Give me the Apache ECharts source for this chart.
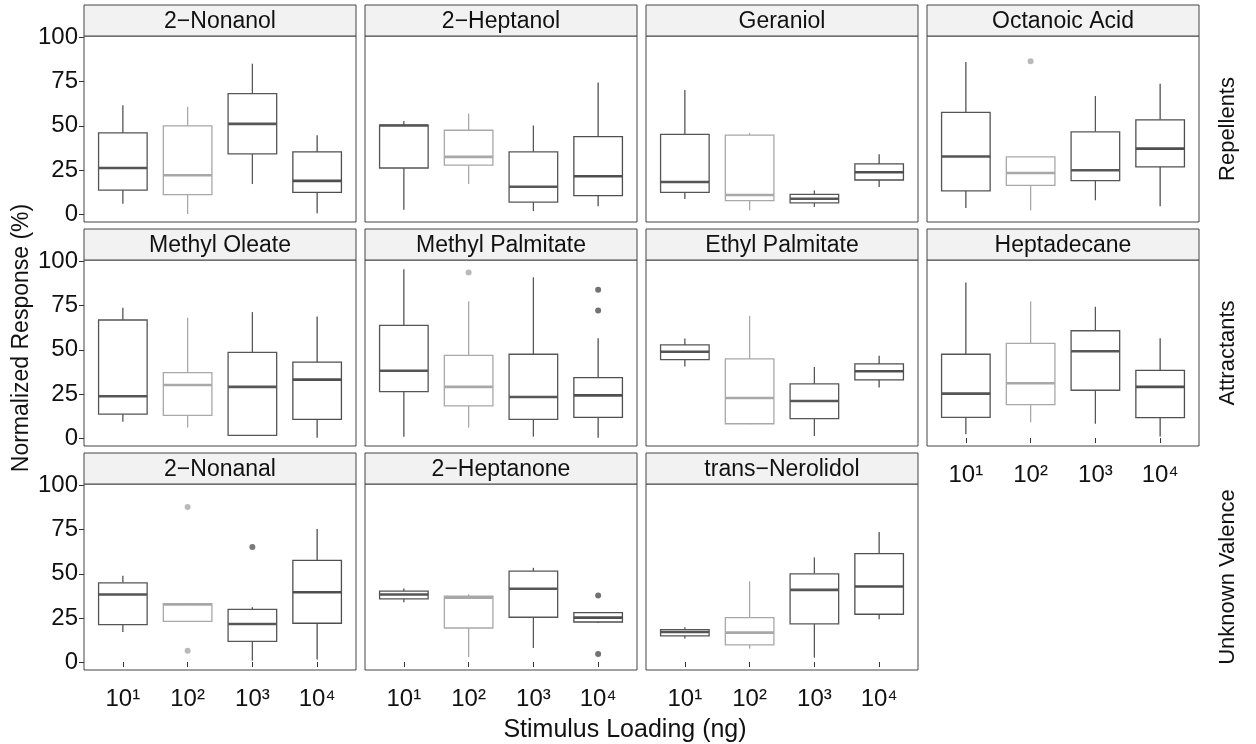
<!DOCTYPE html>
<html>
<head>
<meta charset="utf-8">
<script src="https://cdn.jsdelivr.net/npm/echarts@6/dist/echarts.min.js"></script>
<style>
  html, body { margin: 0; padding: 0; background: #fff; }
  #main { width: 1256px; height: 744px; }
</style>
</head>
<body>
<div id="main"></div>
<script>
// stimulus loadings (x categories) and y ticks
var categories = ['10¹', '10²', '10³', '10⁴'];
var yTicks = [0, 25, 50, 75, 100];
var groupNames = ['Repellents', 'Attractants', 'Unknown Valence'];

// each box: [min, Q1, median, Q3, max] for 10^1 .. 10^4
var nonanolBoxes      = [[5.9, 13.6, 26.1, 46.0, 61.7], [0.0, 11.0, 22.0, 50.0, 60.8], [17.0, 34.1, 51.1, 68.2, 85.2], [0.4, 12.3, 18.8, 35.2, 44.7]];
var heptanolBoxes     = [[2.5, 26.1, 50.2, 50.4, 52.7], [17.0, 27.7, 32.4, 47.5, 57.0], [1.7, 6.8, 15.5, 35.2, 50.2], [4.4, 10.4, 21.4, 43.9, 74.6]];
var geraniolBoxes     = [[8.5, 12.3, 18.2, 45.1, 70.3], [2.1, 7.6, 10.8, 44.7, 46.0], [4.0, 6.3, 8.7, 11.2, 13.4], [15.3, 19.3, 23.7, 28.4, 33.9]];
var octanoicBoxes     = [[3.4, 13.1, 32.6, 57.6, 86.2], [2.1, 16.3, 23.3, 32.4, 32.6], [7.8, 18.9, 24.8, 46.6, 66.9], [4.4, 26.7, 37.1, 53.4, 73.9]];
var methOleateBoxes   = [[9.3, 13.6, 23.7, 66.9, 73.9], [5.9, 12.9, 30.1, 37.1, 68.2], [1.5, 1.5, 29.0, 48.5, 71.4], [0.2, 10.6, 33.1, 43.0, 68.9]];
var methPalmBoxes     = [[0.8, 26.3, 38.1, 63.8, 95.6], [5.9, 18.2, 29.0, 46.8, 77.5], [0.8, 10.6, 23.3, 47.5, 91.1], [0.2, 11.7, 24.2, 34.3, 56.6]];
var ethPalmBoxes      = [[40.5, 44.5, 48.9, 52.8, 56.4], [7.8, 8.1, 22.7, 44.9, 69.3], [1.1, 11.0, 21.0, 30.7, 40.3], [28.6, 33.0, 37.9, 42.0, 46.6]];
var heptadecaneBoxes  = [[2.1, 11.7, 25.2, 47.5, 88.1], [8.9, 18.9, 31.1, 53.6, 77.5], [8.1, 27.1, 49.2, 60.8, 74.4], [0.9, 11.6, 29.0, 38.3, 56.6]];
var nonanalBoxes      = [[17.0, 21.2, 38.3, 44.9, 48.9], [22.7, 23.1, 32.6, 33.1, 33.5], [0.8, 11.7, 21.6, 29.9, 31.1], [1.5, 22.0, 39.6, 57.6, 75.4]];
var heptanoneBoxes    = [[33.9, 35.8, 38.3, 40.2, 41.7], [2.8, 19.3, 36.4, 37.3, 38.4], [8.0, 25.4, 41.5, 51.5, 53.4], [22.3, 22.7, 25.2, 28.0, 28.0]];
var nerolidolBoxes    = [[13.3, 14.8, 17.0, 18.4, 19.7], [7.6, 9.7, 16.7, 25.2, 45.8], [2.5, 21.6, 40.9, 50.0, 59.3], [24.2, 27.1, 42.8, 61.4, 73.7]];

// outliers: [category position (1-4), value]
var octanoicOutliers  = [[2, 86.6]];
var methPalmOutliers  = [[2, 93.8], [4, 84.1], [4, 72.3]];
var nonanalOutliers   = [[2, 87.9], [2, 6.4], [3, 65.2]];
var heptanoneOutliers = [[4, 37.7], [4, 4.5]];

var panels = [
    {name: '2−Nonanol', boxes: nonanolBoxes, outliers: []},
    {name: '2−Heptanol', boxes: heptanolBoxes, outliers: []},
    {name: 'Geraniol', boxes: geraniolBoxes, outliers: []},
    {name: 'Octanoic Acid', boxes: octanoicBoxes, outliers: octanoicOutliers},
    {name: 'Methyl Oleate', boxes: methOleateBoxes, outliers: []},
    {name: 'Methyl Palmitate', boxes: methPalmBoxes, outliers: methPalmOutliers},
    {name: 'Ethyl Palmitate', boxes: ethPalmBoxes, outliers: []},
    {name: 'Heptadecane', boxes: heptadecaneBoxes, outliers: []},
    {name: '2−Nonanal', boxes: nonanalBoxes, outliers: nonanalOutliers},
    {name: '2−Heptanone', boxes: heptanoneBoxes, outliers: heptanoneOutliers},
    {name: 'trans−Nerolidol', boxes: nerolidolBoxes, outliers: []}
];

var boxColors = ['#555555', '#a8a8a8', '#575757', '#4f4f4f'];
var FONT = '"Liberation Sans", Arial, Helvetica, sans-serif';
var TXT = '#111';
var colLeft = [84, 365, 646, 927];
var rowTop = [36, 260, 484];
var panelW = 272, panelH = 186, stripH = 31;

function renderBox(params, api) {
    var x = api.value(0);
    var lo = api.coord([x, api.value(1)]);
    var q1 = api.coord([x, api.value(2)]);
    var med = api.coord([x, api.value(3)]);
    var q3 = api.coord([x, api.value(4)]);
    var hi = api.coord([x, api.value(5)]);
    var half = api.size([0.75, 0])[0] / 2;
    var col = boxColors[x - 1];
    return {
        type: 'group',
        children: [
            {type: 'line', shape: {x1: lo[0], y1: lo[1], x2: q1[0], y2: q1[1]}, style: {stroke: col, lineWidth: 1.3}},
            {type: 'line', shape: {x1: q3[0], y1: q3[1], x2: hi[0], y2: hi[1]}, style: {stroke: col, lineWidth: 1.3}},
            {type: 'rect', shape: {x: q3[0] - half, y: q3[1], width: half * 2, height: q1[1] - q3[1]},
                style: {fill: '#fff', stroke: col, lineWidth: 1.3}},
            {type: 'line', shape: {x1: med[0] - half, y1: med[1], x2: med[0] + half, y2: med[1]},
                style: {stroke: col, lineWidth: 2.6}}
        ]
    };
}

var grids = [], xAxes = [], yAxes = [], series = [], graphics = [];

panels.forEach(function (p, i) {
    var r = Math.floor(i / 4), c = i % 4;
    var bottom = (r === 2) || (r === 1 && c === 3);
    grids.push({
        left: colLeft[c], top: rowTop[r], width: panelW, height: panelH,
        show: true, borderColor: '#444', borderWidth: 1, backgroundColor: '#fff'
    });
    xAxes.push({
        type: 'value', gridIndex: i, min: 0.4, max: 4.6,
        axisLine: {show: false},
        splitLine: {show: false},
        axisTick: {show: bottom, customValues: [1, 2, 3, 4], length: 5, lineStyle: {color: '#333'}},
        axisLabel: {
            show: bottom, customValues: [1, 2, 3, 4], margin: 17,
            fontFamily: FONT, fontSize: 24, color: TXT,
            formatter: function (v) { return categories[Math.round(v) - 1]; }
        }
    });
    yAxes.push({
        type: 'value', gridIndex: i, min: -4.5, max: 100.9,
        axisLine: {show: false},
        splitLine: {show: false},
        axisTick: {show: c === 0, customValues: yTicks, length: 5, lineStyle: {color: '#333'}},
        axisLabel: {
            show: c === 0, customValues: yTicks, margin: 6,
            fontFamily: FONT, fontSize: 24, color: TXT
        }
    });
    series.push({
        type: 'custom', xAxisIndex: i, yAxisIndex: i,
        renderItem: renderBox,
        encode: {x: 0, y: [1, 2, 3, 4, 5]},
        data: p.boxes.map(function (b, k) { return [k + 1].concat(b); }),
        silent: true
    });
    if (p.outliers.length) {
        series.push({
            type: 'scatter', xAxisIndex: i, yAxisIndex: i,
            symbolSize: 6,
            itemStyle: {color: function (d) { return boxColors[d.value[0] - 1]; }},
            data: p.outliers,
            silent: true
        });
    }
    // facet strip
    graphics.push({
        type: 'rect', shape: {x: colLeft[c], y: rowTop[r] - stripH, width: panelW, height: stripH},
        style: {fill: '#f2f2f2', stroke: '#444', lineWidth: 1}
    });
    graphics.push({
        type: 'text', x: colLeft[c] + panelW / 2, y: rowTop[r] - stripH / 2 + 1,
        style: {text: p.name, font: '23px ' + FONT, fill: TXT, textAlign: 'center', textVerticalAlign: 'middle'}
    });
});

// row labels on the right
groupNames.forEach(function (g, r) {
    graphics.push({
        type: 'text', x: 1228, y: rowTop[r] + panelH / 2, rotation: Math.PI / 2,
        style: {text: g, font: '22px ' + FONT, fill: TXT, textAlign: 'center', textVerticalAlign: 'middle'}
    });
});

// axis titles
graphics.push({
    type: 'text', x: 22, y: 338, rotation: Math.PI / 2,
    style: {text: 'Normalized Response (%)', font: '23px ' + FONT, fill: TXT, textAlign: 'center', textVerticalAlign: 'middle'}
});
graphics.push({
    type: 'text', x: 625, y: 730,
    style: {text: 'Stimulus Loading (ng)', font: '25px ' + FONT, fill: TXT, textAlign: 'center', textVerticalAlign: 'middle'}
});

var chart = echarts.init(document.getElementById('main'));
var option = {
    backgroundColor: '#fff',
    animation: false,
    grid: grids,
    xAxis: xAxes,
    yAxis: yAxes,
    series: series,
    graphic: graphics
};
chart.setOption(option, true);
</script>
</body>
</html>
